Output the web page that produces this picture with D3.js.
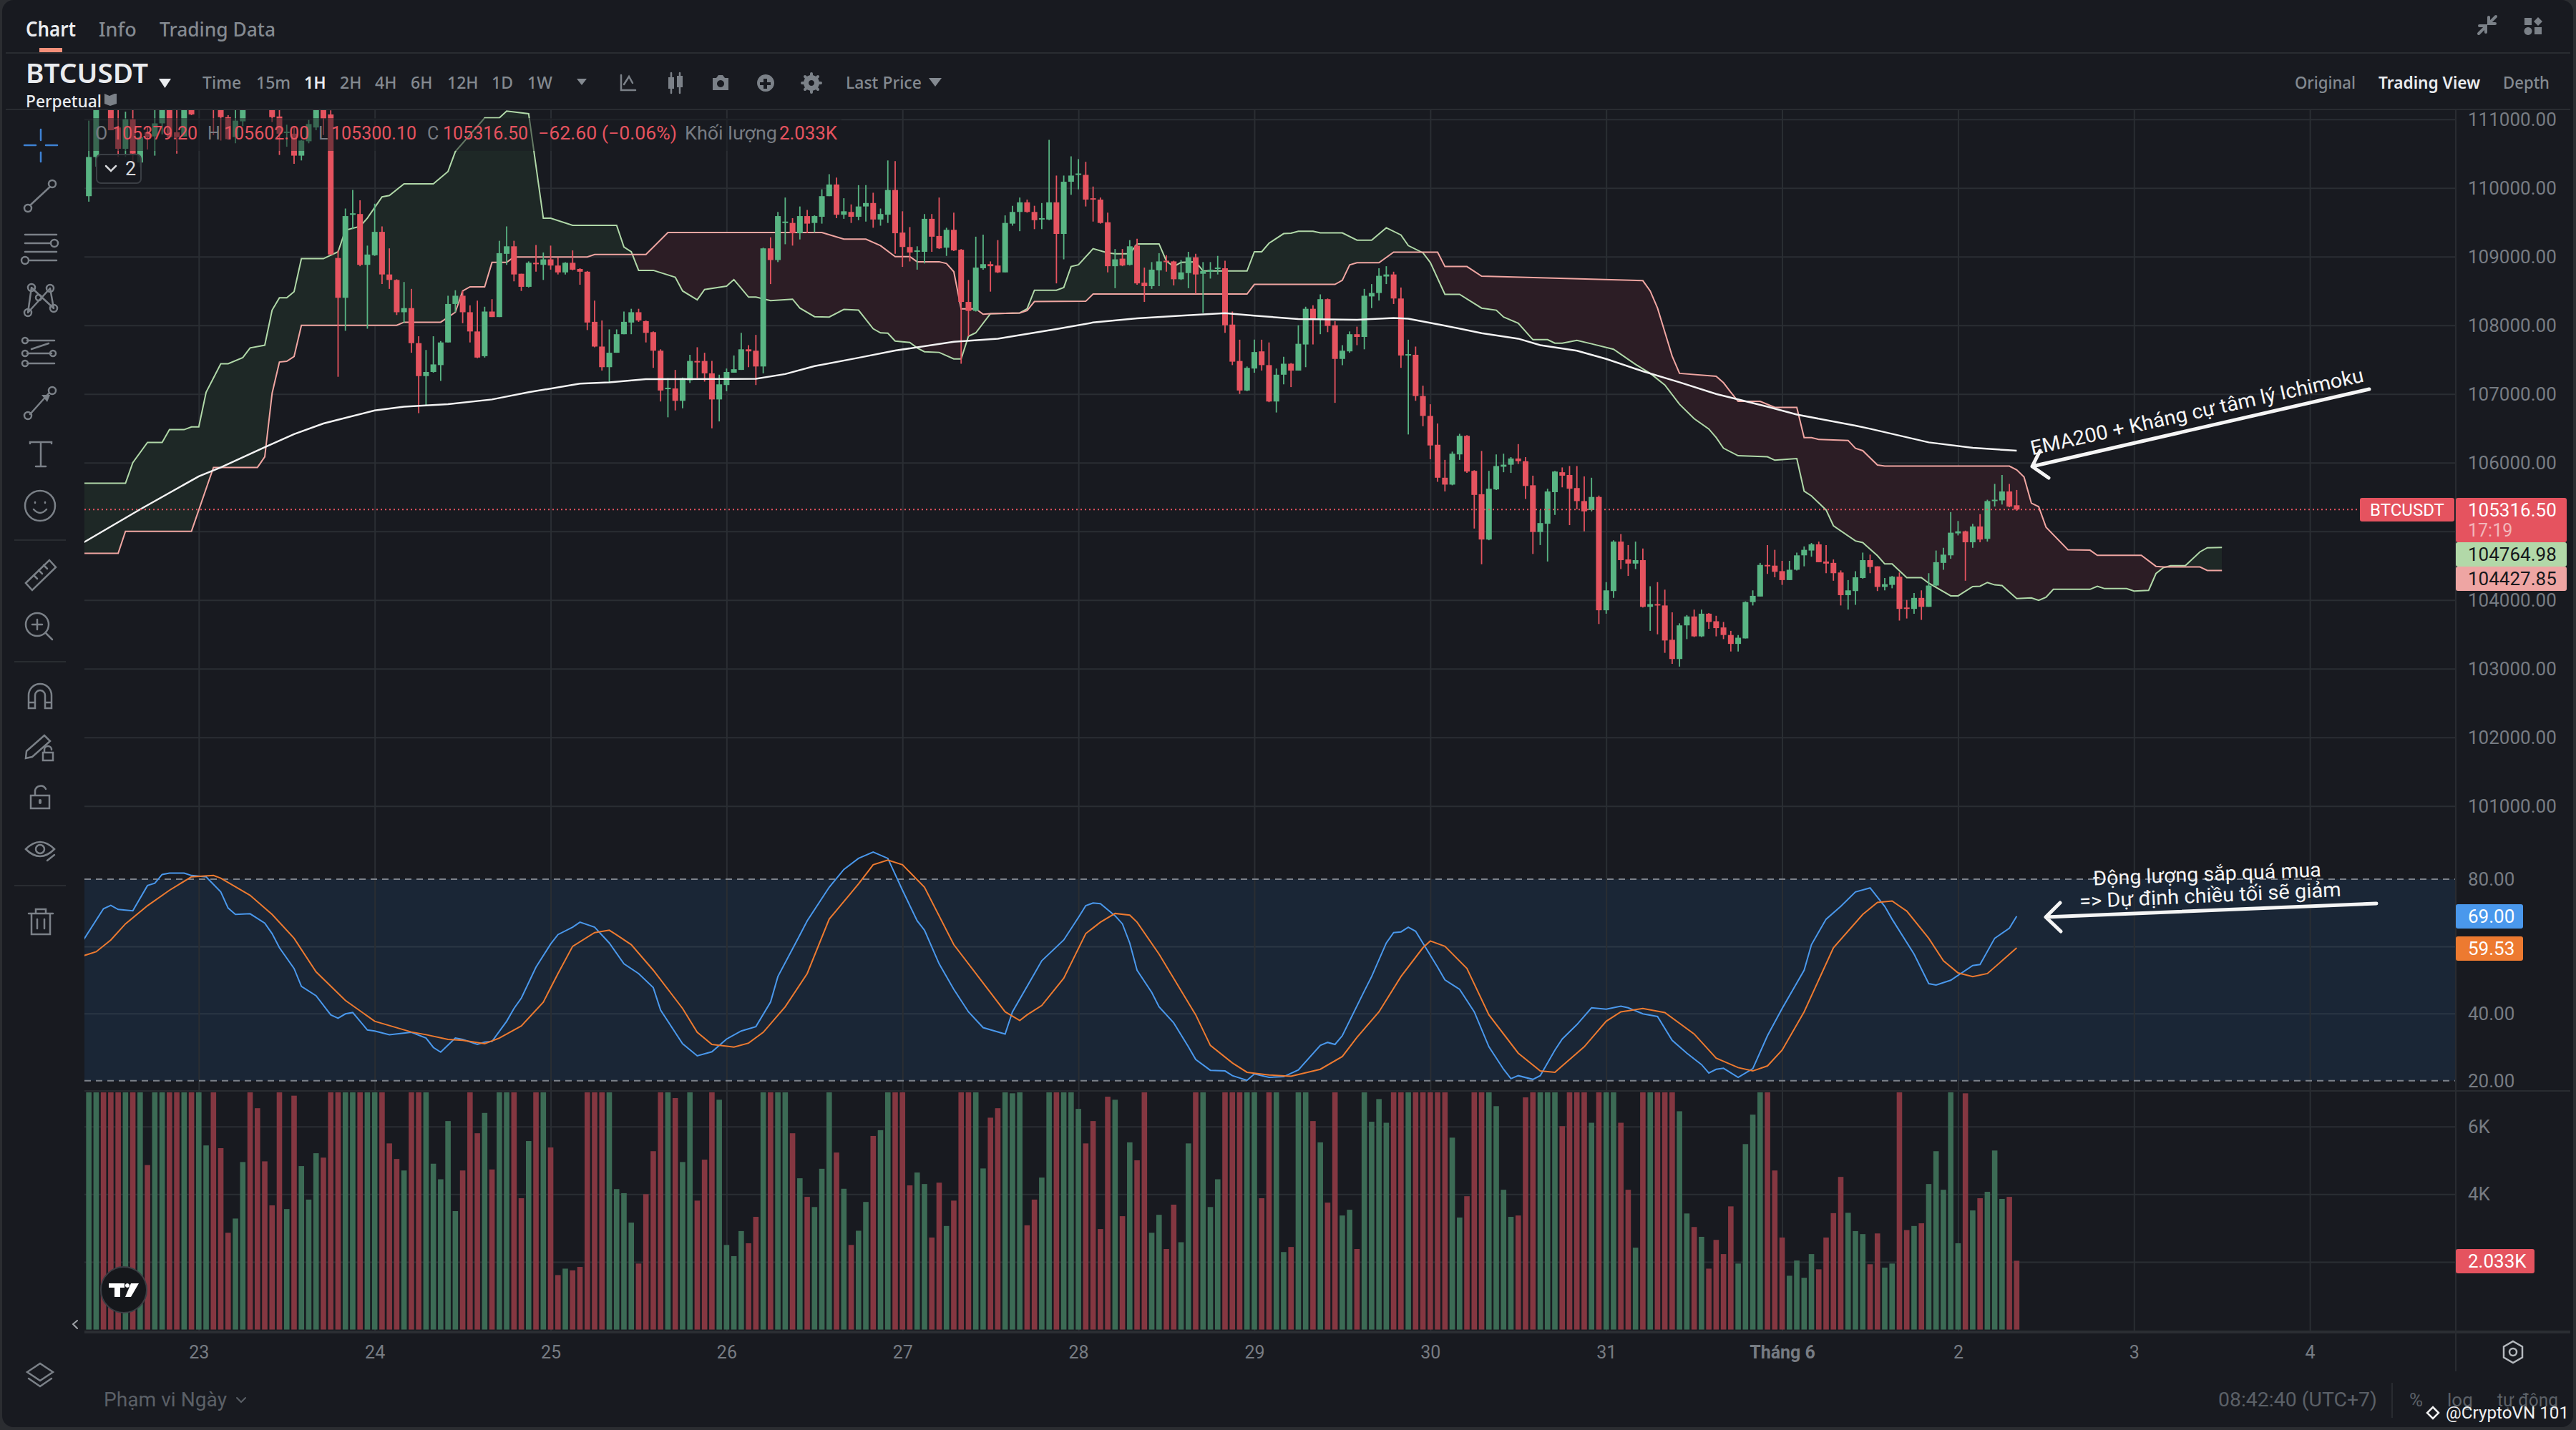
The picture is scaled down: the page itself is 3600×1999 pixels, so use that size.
<!DOCTYPE html>
<html>
<head>
<meta charset="utf-8">
<title>BTCUSDT</title>
<script src="https://cdn.jsdelivr.net/npm/d3@7"></script>
<style>
  html, body { margin: 0; padding: 0; background: #2b2d31; }
  svg { display: block; }
  text { font-family: "Noto Sans", sans-serif; }
  .num text, text.num { font-family: Roboto, sans-serif; }
</style>
</head>
<body>
<div id="chart"></div>
<script>
// Nến 1H, bar 0 = 23/5 00:00, bar đầu tiên = -15
const firstBar = -15;

const opens = [
  109880,110450,111500,111350,110880,110570,111000,110370,110810,110750,
  110940,111200,110810,110750,111300,111250,111250,111350,111250,111030,
  110740,110970,111350,111350,111300,111250,111040,110800,110790,110470,
  110680,110880,111200,111070,108980,108400,109610,109620,108880,109020,
  109360,108740,108660,108190,108250,107740,107260,107320,107420,107750,
  108310,108430,108190,107910,107550,108200,108120,109040,109150,108750,
  108560,108910,108880,108960,108870,108770,108910,108820,108780,108050,
  107690,107390,107600,107870,108040,108190,108060,107900,107630,107070,
  107080,106900,107200,107480,107480,107300,106920,107130,107310,107350,
  107650,107630,107400,109120,108950,109490,109490,109340,109590,109490,
  109580,109880,110050,109610,109650,109580,109730,109780,109540,109610,
  109970,109350,109140,109070,109070,109550,109300,109130,109390,109100,
  108340,108210,108830,108890,108870,108770,109480,109650,109790,109650,
  109540,109540,109790,109330,110090,110190,110190,109850,109830,109500,
  108860,108970,108880,109160,108620,108570,108800,108940,108930,108670,
  108760,108990,108750,108780,108820,108830,108010,107480,107050,107370,
  107620,107420,106890,107280,107440,107340,107720,108240,108090,108380,
  108000,107510,107620,107870,107830,108420,108470,108710,108740,108390,
  107560,107570,106970,106680,106260,105780,105680,106120,106390,105880,
  105540,104880,105610,105940,105970,106060,106020,105670,104990,105110,
  105570,105860,105820,105630,105440,105310,105500,103850,104130,104850,
  104590,104530,104580,103900,103940,103920,103420,103140,103630,103760,
  103470,103800,103690,103600,103490,103360,103440,103970,104050,104510,
  104500,104420,104290,104440,104650,104720,104810,104560,104540,104400,
  104070,104130,104320,104580,104490,104190,104220,104340,103890,103870,
  104030,103900,104210,104540,104650,104970,105000,104840,105070,104890,
  105450,105450,105580,105379.2
];
const highs = [
  110980,111500,111700,111500,111200,111110,111200,110760,110890,111200,
  111300,111300,111200,111300,111400,111450,111400,111450,111350,111060,
  111200,111250,111450,111450,111400,111350,111250,110920,110900,110700,
  110990,111300,111300,111130,109090,109700,109970,109820,109160,109770,
  109440,109120,108670,108630,108530,107840,107640,107840,107770,108430,
  108510,108500,108290,108360,108270,108380,109230,109440,109230,108750,
  108930,109170,109060,109160,108990,108920,109090,108830,108790,108360,
  108070,107940,107940,108200,108240,108240,108070,107910,107650,107230,
  107350,107240,107570,107680,107600,107480,107280,107370,107560,107890,
  107710,107860,109130,109280,109650,109860,109560,109730,109680,109600,
  109980,110200,110150,109850,109760,110040,110040,109930,109700,110400,
  110390,109660,109430,109150,109620,109620,109860,109420,109640,109110,
  108660,109290,109320,108930,109240,109600,109740,109860,109830,109740,
  109780,110700,110180,110180,110460,110420,110380,110020,109860,109640,
  109110,109110,109240,109260,108840,108920,109050,109020,108940,108950,
  109070,109040,108920,108920,109010,108940,108200,107790,107400,107790,
  107790,107750,107370,107540,107450,108000,108270,108290,108450,108390,
  108060,107710,107910,107980,108530,108600,108830,108860,108780,108550,
  107790,107690,107120,106850,106570,106040,106160,106420,106400,105890,
  106170,105880,106120,106130,106080,106270,106080,105810,105310,105620,
  105880,105930,105950,105950,105800,105780,105520,104260,104870,104960,
  104800,104850,104750,104200,104260,104150,103820,103660,103780,103860,
  103860,103810,103770,103680,103550,103490,103980,104140,104540,104800,
  104730,104570,104570,104690,104780,104830,104850,104800,104590,104430,
  104290,104420,104690,104660,104490,104320,104350,104400,104000,104100,
  104140,104390,104720,104760,105280,105150,105010,105110,105250,105460,
  105690,105820,105690,105602
];
const lows = [
  109800,110310,111250,110840,110450,110450,110360,110300,110560,110470,
  110780,110740,110500,110750,111060,111200,111200,110770,110690,110700,
  110650,110900,111200,111200,111180,110960,110480,110600,110350,110400,
  110650,110840,110770,109030,107250,107920,109400,108860,107950,109010,
  108600,108530,108150,108030,107600,106720,106830,107310,107190,107750,
  108190,108030,107750,107520,107530,108120,108120,108880,108640,108500,
  108550,108780,108660,108810,108740,108740,108800,108590,107930,107680,
  107340,107160,107600,107870,107870,108050,107750,107380,106890,106660,
  106760,106790,107160,107230,107180,106500,106600,107040,107310,107350,
  107390,107130,107300,108600,108920,109180,109160,109250,109340,109350,
  109480,109880,109560,109550,109490,109530,109510,109420,109450,109490,
  109040,108850,108930,108810,108900,109070,109110,109010,109080,107440,
  107840,108200,108810,108490,108760,108770,109450,109370,109640,109400,
  109400,109530,108610,108960,109900,109980,109730,109510,109480,108770,
  108540,108860,108870,108590,108340,108530,108570,108780,108580,108660,
  108540,108460,108180,108680,108740,107890,107420,107000,107040,107310,
  107340,106880,106730,107140,107100,107340,107390,107720,107870,107900,
  106870,107420,107600,107710,107650,108250,108360,108600,108310,107380,
  106410,106900,106530,106050,105720,105580,105670,106040,105850,105040,
  104520,104870,105600,105860,105850,105980,105470,104670,104800,104560,
  105240,105640,105090,105320,105000,105290,103650,103800,104030,104450,
  104350,104450,103890,103550,103500,103230,103070,103030,103430,103460,
  103460,103580,103470,103430,103250,103250,103440,103920,104050,104380,
  104330,104220,104290,104430,104490,104630,104550,104390,104280,103920,
  103860,103930,104310,104390,104130,104140,104170,103700,103730,103800,
  103710,103900,104200,104440,104600,104940,104280,104760,104840,104850,
  105360,105390,105350,105300.1
];
const closes = [
  110450,111300,111350,110840,110570,111000,110500,110740,110740,110940,
  111200,110740,110740,111200,111070,111350,111350,111200,111030,110710,
  110980,111200,111250,111250,111220,111030,110790,110820,110470,110690,
  110930,111200,111010,109030,108400,109590,109630,108880,109030,109360,
  108740,108660,108190,108250,107740,107260,107320,107430,107750,108310,
  108430,108190,107910,107530,108200,108120,109050,109150,108740,108560,
  108910,108890,108960,108870,108770,108910,108810,108780,108040,107690,
  107390,107600,107870,108050,108190,108070,107890,107630,107050,107090,
  106900,107230,107480,107470,107300,106920,107140,107320,107360,107650,
  107620,107400,109120,108950,109590,109510,109340,109590,109480,109590,
  109880,110050,109610,109660,109580,109730,109780,109540,109620,109970,
  109340,109140,109060,109090,109550,109290,109120,109390,109090,108340,
  108210,108840,108890,108860,108770,109490,109650,109790,109650,109530,
  109560,109790,109330,110090,110180,110210,109830,109830,109490,108860,
  108960,108870,109150,108610,108570,108810,108930,108930,108670,108770,
  108990,108740,108790,108810,108840,108000,107470,107050,107380,107610,
  107420,106890,107280,107440,107340,107730,108240,108090,108380,107990,
  107510,107630,107870,107830,108430,108470,108720,108740,108390,107560,
  107580,106970,106680,106250,105780,105680,106130,106390,105870,105530,
  104880,105620,105950,105970,106060,106020,105660,104990,105120,105580,
  105870,105810,105620,105440,105290,105500,103850,104140,104850,104580,
  104530,104580,103900,103940,103920,103410,103140,103630,103760,103470,
  103800,103680,103590,103490,103360,103450,103970,104060,104510,104500,
  104410,104290,104440,104650,104730,104810,104550,104530,104390,104070,
  104140,104330,104580,104480,104190,104230,104340,103870,103880,104030,
  103900,104210,104550,104660,104980,105000,104840,105070,104880,105440,
  105460,105580,105360,105316.5
];
// Khối lượng (K), cột vượt khung lấy 8
const volumes = [
  8,8,8,8,8,8,8,8,4.86,8,
  8,8,8,8,8,8,5.44,8,5.36,2.86,
  3.28,4.95,8,6.54,4.97,3.67,8,3.56,6.91,4.83,
  3.84,5.21,5.08,8,8,8,8,8,8,8,
  8,5.5,5.04,4.7,8,8,8,4.9,4.44,6.16,
  3.5,4.7,8,5.8,6.4,4.73,8,8,8,3.88,
  5.57,8,8,5.38,1.61,1.8,1.75,1.85,8,8,
  8,8,4.15,4.03,3.16,1.95,4,5.27,8,8,
  6.84,4.95,8,3.81,5.02,8,6.79,2.5,2.17,2.91,
  2.55,3.33,8,8,8,8,5.8,4.47,3.92,3.62,
  4.75,8,5.23,4.16,2.5,2.92,3.77,5.72,5.89,8,
  8,8,4.26,4.64,4.3,2.72,4.34,3.06,3.81,8,
  8,8,4.76,6.26,6.54,8,6.98,8,3.08,3.84,
  4.49,8,8,8,8,6.52,5.5,6.16,2.97,6.88,
  6.79,3.35,5.53,5,8,2.86,3.39,2.38,3.69,2.58,
  5.5,8,8,3.62,4.44,8,8,8,8,8,
  3.88,8,8,2.29,2.44,8,8,6.16,5.53,3.75,
  8,3.37,3.54,2.38,8,6.14,6.81,6.11,8,8,
  8,8,8,8,8,8,5.67,3.31,3.94,8,
  8,8,6.6,4.13,3.33,3.37,6.86,8,8,8,
  8,6.01,8,8,8,6.11,8,8,8,6.11,
  4.13,2.42,8,8,8,8,8,6.45,3.43,3.03,
  2.74,1.8,2.65,2.23,3.64,1.95,5.48,6.35,8,8,
  4.7,2.72,1.59,2.04,1.53,2.23,1.78,2.72,3.44,4.51,
  3.45,2.91,2.82,1.93,2.84,1.83,1.95,8,2.94,3.06,
  3.14,4.3,5.27,4.13,8,2.55,6.98,3.52,3.88,4.07,
  5.29,3.86,3.92,2.033
];

// Ichimoku: các đỉnh gãy [bar, giá]
const spanA = [
  [-16,105700],[-10,105700],[-9,106000],[-7,106295],[-5,106295],[-4,106480],[-2,106480],[-1,106520],[0,106520],[1,107025],
  [3,107440],[4,107440],[6,107530],[7,107670],[9,107710],[10,108220],[11,108400],[12,108400],[13,108490],[14,108970],
  [17,108970],[19,109070],[20,109385],[22,109440],[23,109560],[25,109870],[26,109890],[28,110060],[32,110060],[34,110240],
  [35,110530],[39,111020],[41,111020],[42,111120],[45,111080],[47,109560],[48,109560],[51,109455],[57,109455],[58,109140],
  [59,109070],[60,108800],[62,108800],[65,108700],[66,108500],[68,108370],[69,108520],[72,108570],[73,108665],[75,108410],
  [76,108410],[78,108360],[81,108380],[82,108250],[84,108125],[86,108120],[88,108230],[90,108220],[92,107950],[93,107890],
  [94,107885],[95,107770],[97,107750],[98,107670],[99,107615],[101,107605],[103,107510],[104,107510],[105,107840],[106,107890],
  [108,108170],[112,108180],[113,108240],[114,108510],[117,108510],[118,108550],[119,108855],[120,108880],[122,109115],[124,109055],
  [125,109040],[127,109040],[128,109185],[131,109185],[132,108935],[133,108855],[134,108915],[136,108925],[137,108790],[143,108790],
  [144,109070],[145,109070],[146,109195],[148,109335],[149,109340],[150,109370],[152,109370],[153,109345],[156,109345],[158,109240],
  [160,109240],[162,109420],[164,109315],[165,109160],[167,109055],[168,108915],[170,108450],[172,108450],[175,108250],[177,108220],
  [178,108120],[180,108030],[182,107790],[184,107790],[185,107740],[186,107740],[188,107780],[190,107730],[193,107650],[196,107430],
  [198,107300],[200,107130],[202,106850],[204,106640],[206,106490],[207,106365],[208,106210],[210,106100],[214,106085],[215,106035],
  [218,106060],[219,105585],[220,105515],[222,105310],[223,105080],[226,104860],[227,104835],[229,104645],[230,104525],[231,104525],
  [233,104325],[235,104325],[236,104245],[239,104060],[240,104060],[242,104195],[243,104200],[244,104255],[245,104220],[246,104210],
  [248,104020],[250,104030],[251,103995],[252,104040],[253,104155],[258,104155],[259,104200],[260,104165],[263,104165],[264,104130],
  [266,104140],[267,104385],[268,104470],[269,104500],[271,104500],[273,104700],[274,104760],[276,104765]
];
const spanB = [
  [-16,104680],[-11,104680],[-10,105000],[-1,105000],[2,105930],[8,105930],[9,106085],[10,107007],[11,107465],[12,107475],
  [13,107545],[14,108000],[27,108000],[28,108045],[33,108045],[35,108190],[36,108500],[37,108560],[39,108560],[40,108915],
  [42,108915],[43,108995],[53,108995],[54,109030],[61,109030],[64,109350],[85,109350],[88,109255],[91,109255],[93,109160],
  [95,109000],[97,109000],[98,108925],[101,108925],[102,108900],[103,108780],[104,108240],[106,108240],[107,108160],[108,108170],
  [112,108180],[113,108215],[114,108345],[121,108350],[122,108455],[143,108455],[144,108595],[155,108595],[156,108655],[157,108880],
  [158,108910],[161,108910],[163,109065],[169,109065],[170,108855],[173,108855],[175,108715],[197,108650],[198,108500],[199,108250],
  [200,107900],[201,107550],[202,107300],[207,107257],[208,107163],[209,107024],[210,106892],[213,106892],[215,106805],[218,106805],
  [219,106365],[220,106365],[221,106337],[225,106323],[226,106208],[227,106174],[229,105965],[230,105950],[247,105950],[248,105895],
  [249,105790],[250,105410],[251,105358],[252,105060],[255,104730],[258,104725],[259,104650],[265,104650],[267,104490],[268,104480],
  [273,104480],[274,104430],[276,104428]
];
const ema200 = [
  [-16,104820],[-8,105320],[0,105800],[3,105930],[9,106225],[13,106415],[17,106570],[19,106625],[24,106760],[28,106815],
  [34,106850],[40,106920],[45,107025],[52,107150],[56,107170],[61,107215],[76,107220],[80,107290],[84,107405],[90,107527],
  [95,107632],[103,107760],[109,107805],[117,107945],[122,108040],[128,108100],[134,108140],[140,108177],[144,108140],[150,108090],
  [158,108080],[163,108105],[165,108095],[170,107995],[175,107885],[180,107805],[183,107710],[188,107630],[192,107510],[197,107330],
  [202,107170],[207,107000],[214,106815],[218,106700],[226,106538],[228,106493],[236,106295],[242,106215],[248,106174]
];

// Stoch RSI
const stochK = [
  [-16,61],[-13,71.2],[-12,72.2],[-11,71],[-9,70.6],[-7,78.1],[-6,78.8],[-5,81.4],[-4,81.8],[-2,81.8],
  [-1,81.1],[1,80.7],[3,76.2],[4,71.4],[5,69.5],[7,69.7],[9,66.9],[10,63.8],[11,59.6],[13,53.4],
  [14,48.1],[16,45.3],[18,39.6],[19,38.6],[20,39.9],[21,40.3],[23,35.1],[24,34.8],[26,33.7],[29,34.4],
  [31,32.7],[32,29.9],[33,28.5],[35,32.7],[36,32.3],[38,30.8],[39,31.5],[40,31.7],[42,37.7],[43,41.5],
  [44,44.6],[46,53.8],[48,60.7],[49,63.5],[51,65.7],[52,67.2],[54,65.7],[56,61],[58,54.8],[60,51.9],
  [62,47.7],[63,41],[66,31],[68,27.4],[70,28.6],[72,32.4],[74,34.8],[76,36.1],[78,43.4],[79,51],
  [82,63.4],[83,67.6],[86,77.6],[88,82.9],[90,86.2],[92,88.1],[94,86.2],[96,76.7],[98,67.6],[99,64.8],
  [101,54.8],[103,47.2],[105,40.5],[107,35.8],[110,33.9],[111,40.5],[114,51.9],[115,55.7],[118,61.9],[120,68.6],
  [121,72.1],[122,72.9],[123,72.7],[125,69.1],[126,66.7],[127,61],[128,52.9],[130,46.3],[131,42],[133,37.2],
  [135,30.1],[136,26.3],[138,23.1],[140,22.9],[141,21.5],[143,20.1],[144,22],[146,21],[148,21.2],[150,23.2],
  [153,30.5],[154,31.4],[155,30.8],[156,33.4],[159,46.7],[160,51],[162,61],[163,64.1],[164,64.3],[165,65.7],
  [166,64.5],[169,53.8],[170,50],[172,47.2],[174,40.5],[176,30.1],[178,23.4],[179,20.6],[180,21.5],[182,20.4],
  [183,21.5],[185,29.1],[186,32.4],[188,36.7],[190,41.7],[192,41.3],[194,42.2],[195,41.7],[197,39.9],[199,39.1],
  [201,32],[203,28.2],[205,24.8],[206,22.3],[207,23.4],[208,23.7],[210,21],[212,23.6],[214,33.4],[216,41.5],
  [219,52.9],[220,60.5],[222,68.1],[224,71.9],[226,76.2],[228,77.4],[230,71.9],[231,68.1],[234,57.7],[236,48.9],
  [237,48.5],[239,49.9],[242,54.3],[243,54.6],[245,62.4],[247,65.4],[248,69]
];
const stochD = [
  [-16,57],[-14,58.4],[-12,61.9],[-10,66.7],[-7,72.1],[-4,76.7],[-1,80.7],[2,81.1],[3,80.3],[7,75.2],
  [10,69.5],[13,62.4],[16,52.4],[20,43.9],[24,37.7],[29,34.5],[31,33.7],[34,32.3],[36,32],[39,31],
  [41,32.7],[44,36.3],[47,43.4],[49,51.9],[51,60],[54,64.1],[56,64.8],[57,63.4],[59,60.5],[62,52.9],
  [66,41.5],[68,34.4],[70,30.8],[73,30],[75,31.2],[77,34.4],[80,42],[83,51.9],[86,68.1],[90,78.6],
  [92,84.3],[94,85.7],[96,84.3],[99,77.6],[103,60.5],[107,49.1],[110,40.5],[112,37.9],[113,39.6],[115,42.4],
  [118,50.5],[121,63.8],[123,67.2],[125,69.8],[127,69.3],[128,67.2],[131,57.7],[136,39.6],[138,30.5],[141,25.3],
  [143,22.5],[146,21.7],[149,21.3],[153,23.4],[156,27.2],[158,32.9],[161,40.5],[164,51],[167,59.6],[168,61.6],
  [170,60],[173,53.4],[176,39.6],[180,28.2],[183,22.9],[185,22.5],[186,24.4],[189,30.1],[192,37.7],[194,40.5],
  [197,41.5],[200,40.3],[204,33.9],[207,26.7],[210,23.9],[212,22.9],[214,24.4],[216,29.1],[219,40.5],[223,59.6],
  [227,69.5],[229,73.1],[231,73.5],[233,70.5],[236,62.4],[238,55.7],[240,52.1],[242,51],[244,51.9],[246,55.7],
  [248,59.53]
];

// Nhãn trục
const priceTicks = [101000,102000,103000,104000,105000,106000,107000,108000,109000,110000,111000];
const stochTicks = [20,40,60,80];
const volumeTicks = [2,4,6];
const dayBars = [0,24,48,72,96,120,144,168,192,216,240,264,288];
const dayLabels = ["23","24","25","26","27","28","29","30","31","Tháng 6","2","3","4"];
const lastPrice = 105316.5;

const W = 3600, H = 1999;
const left = 118, right = 3432;
const upColor = "#58b483", downColor = "#e5535f";
const upVol = "#3c6b55", downVol = "#843741";
const gridColor = "#2a2e33";
const tickColor = "#777c83";

const svg = d3.select("#chart").append("svg").attr("width", W).attr("height", H);

svg.append("rect").attr("x", 3).attr("y", 0).attr("width", W - 7).attr("height", H - 4)
  .attr("rx", 16).attr("fill", "#181a20");

const x = d3.scaleLinear().domain([-15.6, 307.9]).range([left, right]);
const yPrice = d3.scaleLinear().domain([101000, 111000]).range([1126.7, 166.7]);
const yStoch = d3.scaleLinear().domain([20, 80]).range([1510.7, 1229]);
const yVol = d3.scaleLinear().domain([0, 6]).range([1858.6, 1574.7]);

const defs = svg.append("defs");
function addClip(id, xx, yy, w, h) {
  defs.append("clipPath").attr("id", id).append("rect")
    .attr("x", xx).attr("y", yy).attr("width", w).attr("height", h);
}
addClip("clipMain", left, 154, right - left, 1021);
addClip("clipStoch", left, 1175, right - left, 350);
addClip("clipVol", left, 1527, right - left, 333);

// Lưới
function hGrid(scale, ticks, color) {
  const g = svg.append("g").attr("transform", `translate(${left},0)`)
    .call(d3.axisLeft(scale).tickValues(ticks).tickSize(-(right - left)).tickFormat(""));
  g.select(".domain").remove();
  g.selectAll("line").attr("stroke", color).attr("stroke-width", 2);
}

// Nền Stoch RSI
svg.append("rect").attr("x", left).attr("width", right - left)
  .attr("y", yStoch(80)).attr("height", yStoch(20) - yStoch(80)).attr("fill", "#1a2636");

hGrid(yPrice, priceTicks, gridColor);
hGrid(yStoch, [40, 60], "#2b3745");
hGrid(yVol, volumeTicks, gridColor);

const vGrid = svg.append("g").attr("transform", "translate(0,1862)")
  .call(d3.axisBottom(x).tickValues(dayBars).tickSize(-1708).tickFormat(""));
vGrid.select(".domain").remove();
vGrid.selectAll("line").attr("stroke", gridColor).attr("stroke-width", 2);

svg.selectAll(".bandLine").data([80, 20]).enter().append("line")
  .attr("x1", left).attr("x2", right)
  .attr("y1", d => yStoch(d)).attr("y2", d => yStoch(d))
  .attr("stroke", "#7d828a").attr("stroke-width", 2).attr("stroke-dasharray", "9 7");

// Mây Ichimoku
const main = svg.append("g").attr("clip-path", "url(#clipMain)");
function bandClip(id, series, edge) {
  defs.append("clipPath").attr("id", id).append("path").attr("d",
    d3.area().x(d => x(d[0])).y0(edge).y1(d => yPrice(d[1]))(series));
}
bandClip("belowA", spanA, 1175);
bandClip("aboveA", spanA, 100);
bandClip("belowB", spanB, 1175);
bandClip("aboveB", spanB, 100);

function cloudFill(clipOuter, clipInner, color) {
  main.append("g").attr("clip-path", `url(#${clipOuter})`)
    .append("rect").attr("clip-path", `url(#${clipInner})`)
    .attr("x", x(-16)).attr("width", x(276) - x(-16))
    .attr("y", 100).attr("height", 1075).attr("fill", color);
}
cloudFill("belowA", "aboveB", "#1e2826");
cloudFill("aboveA", "belowB", "#2c1d25");

const priceLine = d3.line().x(d => x(d[0])).y(d => yPrice(d[1]));
main.append("path").attr("d", priceLine(spanA)).attr("fill", "none").attr("stroke", "#b0d8a8").attr("stroke-width", 2);
main.append("path").attr("d", priceLine(spanB)).attr("fill", "none").attr("stroke", "#f0a6a2").attr("stroke-width", 2);

// Nến
const candles = opens.map((o, k) => ({ i: firstBar + k, o: o, h: highs[k], l: lows[k], c: closes[k], v: volumes[k] }));
const bodyW = 8;

main.selectAll(".wick").data(candles).enter().append("line")
  .attr("x1", d => x(d.i)).attr("x2", d => x(d.i))
  .attr("y1", d => yPrice(d.h)).attr("y2", d => yPrice(d.l))
  .attr("stroke", d => d.c >= d.o ? upColor : downColor).attr("stroke-width", 1.8);

main.selectAll(".body").data(candles).enter().append("rect")
  .attr("x", d => x(d.i) - bodyW / 2).attr("width", bodyW)
  .attr("y", d => yPrice(Math.max(d.o, d.c)))
  .attr("height", d => Math.max(2, Math.abs(yPrice(d.o) - yPrice(d.c))))
  .attr("fill", d => d.c >= d.o ? upColor : downColor);

main.append("path").attr("d", priceLine(ema200)).attr("fill", "none").attr("stroke", "#f3f3f3").attr("stroke-width", 2.5);

// Đường giá cuối
svg.append("line").attr("x1", left).attr("x2", 3298)
  .attr("y1", yPrice(lastPrice)).attr("y2", yPrice(lastPrice))
  .attr("stroke", downColor).attr("stroke-width", 2).attr("stroke-dasharray", "2 4");

// Stoch RSI
const stochPane = svg.append("g").attr("clip-path", "url(#clipStoch)");
const stochLine = d3.line().x(d => x(d[0])).y(d => yStoch(d[1]));
stochPane.append("path").attr("d", stochLine(stochK)).attr("fill", "none").attr("stroke", "#4a98ec").attr("stroke-width", 2);
stochPane.append("path").attr("d", stochLine(stochD)).attr("fill", "none").attr("stroke", "#ed7a30").attr("stroke-width", 2);

// Khối lượng
const volPane = svg.append("g").attr("clip-path", "url(#clipVol)");
volPane.selectAll("rect").data(candles).enter().append("rect")
  .attr("x", d => x(d.i) - 3.8).attr("width", 7.6)
  .attr("y", d => yVol(d.v)).attr("height", d => yVol(0) - yVol(d.v))
  .attr("fill", d => d.c >= d.o ? upVol : downVol);

// Đường phân cách
function rule(x1, y1, x2, y2, color, w) {
  svg.append("line").attr("x1", x1).attr("y1", y1).attr("x2", x2).attr("y2", y2)
    .attr("stroke", color || "#292c31").attr("stroke-width", w || 2);
}
rule(8, 74, 3592, 74);
rule(8, 153, 3592, 153);
rule(left, 1525, 3592, 1525);
rule(left, 1862, 3592, 1862, "#2b2e33", 4);
rule(right, 153, right, 1917);
rule(3343, 1933, 3343, 1982);

// Trục phải
function valueAxis(scale, ticks, fmt) {
  const g = svg.append("g").attr("class", "num").attr("transform", `translate(${right},0)`)
    .call(d3.axisRight(scale).tickValues(ticks).tickSize(0).tickPadding(17).tickFormat(fmt));
  g.select(".domain").remove();
  g.selectAll("text").attr("fill", tickColor).style("font-size", "26px").style("font-family", "Roboto, sans-serif");
}
valueAxis(yPrice, priceTicks, d => d === 105000 ? "" : d3.format(".2f")(d));
valueAxis(yStoch, stochTicks, d => d === 60 ? "" : d3.format(".2f")(d));
valueAxis(yVol, volumeTicks, d => d === 2 ? "" : d + "K");

// Trục thời gian
const timeAxis = svg.append("g").attr("transform", "translate(0,1873)")
  .call(d3.axisBottom(x).tickValues(dayBars).tickSize(0).tickPadding(8)
    .tickFormat(d => dayLabels[dayBars.indexOf(d)]));
timeAxis.select(".domain").remove();
timeAxis.selectAll("text").attr("fill", tickColor).style("font-size", "25px")
  .style("font-family", "Roboto, sans-serif")
  .style("font-weight", d => d === 216 ? 700 : 400);

// Chữ
function label(str, xx, yy, size, color, opt) {
  opt = opt || {};
  const t = svg.append("text").attr("x", xx).attr("y", yy).attr("dominant-baseline", "central")
    .attr("font-size", size).attr("fill", color)
    .attr("font-weight", opt.weight || 400)
    .attr("text-anchor", opt.anchor || "start")
    .text(str);
  if (opt.font) t.style("font-family", opt.font);
  if (opt.len) t.attr("textLength", opt.len).attr("lengthAdjust", "spacingAndGlyphs");
  if (opt.rot) t.attr("transform", `rotate(${opt.rot} ${xx} ${yy})`);
  return t;
}

// Thanh trên
const gray = "#848a91";
label("Chart", 36, 40, 28, "#eaecef", { weight: 600, len: 70 });
label("Info", 138, 40, 27, gray, { weight: 500 });
label("Trading Data", 223, 40, 27, gray, { weight: 500, len: 162 });
svg.append("rect").attr("x", 55).attr("y", 67).attr("width", 32).attr("height", 6).attr("fill", "#f4907a");

label("BTCUSDT", 36, 101, 38, "#eaecef", { weight: 600, len: 171 });
svg.append("path").attr("d", "M222 110 L239 110 L230.5 123 Z").attr("fill", "#eaecef");
label("Perpetual", 36, 140, 24, "#eaecef", { weight: 500, len: 106 });
svg.append("path").attr("d", "M146 131 L153 134 L160 131 L163 131 L163 145 L154 148 L146 145 Z").attr("fill", "#7b8188");

const intervals = [["Time", 283, 0], ["15m", 358, 0], ["1H", 425, 1], ["2H", 475, 0], ["4H", 524, 0], ["6H", 574, 0], ["12H", 625, 0], ["1D", 687, 0], ["1W", 737, 0]];
intervals.forEach(d => label(d[0], d[1], 115, 23, d[2] ? "#eaecef" : gray, { anchor: "start", weight: d[2] ? 600 : 500 }));
svg.append("path").attr("d", "M806 110 L820 110 L813 119 Z").attr("fill", gray);
label("Last Price", 1182, 115, 23, gray, { weight: 500 });
svg.append("path").attr("d", "M1298 109 L1316 109 L1307 121 Z").attr("fill", gray);

label("Original", 3207, 115, 23, gray, { weight: 500, len: 85 });
label("Trading View", 3324, 115, 23, "#eaecef", { weight: 600, len: 142 });
label("Depth", 3498, 115, 23, gray, { weight: 500, len: 65 });

// Biểu tượng thanh trên
const iconColor = "#7b8188";
function iconPath(d, opt) {
  opt = opt || {};
  svg.append("path").attr("d", d)
    .attr("fill", opt.fill ? (opt.color || iconColor) : "none")
    .attr("stroke", opt.fill ? "none" : (opt.color || iconColor))
    .attr("stroke-width", opt.sw || 2.5)
    .attr("fill-rule", "evenodd")
    .attr("stroke-linecap", "round");
}
iconPath("M868 105 L868 126 L888 126 M872 118 L879 107 L884 116");
iconPath("M934 108 h8 v16 h-8 Z M946 106 h8 v16 h-8 Z", { fill: true });
iconPath("M938 102 v28 M950 102 v28");
iconPath("M996 109 h5 l3 -4 h6 l3 4 h5 v17 h-22 Z M1007 112 a5 5 0 1 0 0.01 0 Z", { fill: true });
iconPath("M1070 104 a12 12 0 1 0 0.01 0 Z M1067 110 v5 h-5 v4 h5 v5 h5 v-5 h5 v-4 h-5 v-5 Z", { fill: true });
iconPath("M1134 105 a11 11 0 1 0 0.01 0 Z M1134 112 a4 4 0 1 1 -0.01 0 Z", { fill: true });
iconPath("M1134 103 v2 M1134 127 v2 M1121 116 h2 M1145 116 h2 M1125 107 l2 2 M1143 107 l-2 2 M1125 125 l2 -2 M1143 125 l-2 -2", { sw: 4 });
iconPath("M3488 23 L3478 33 M3478 24 V33 H3487 M3464 47 L3474 37 M3465 36 H3474 V45", { sw: 4 });
iconPath("M3528 25 h10 v10 h-10 Z M3547 24 l6 6 l-6 6 l-6 -6 Z M3533 38 a5.5 5.5 0 1 0 0.01 0 Z M3542 38 h10 v10 h-10 Z", { fill: true });

// Chú thích OHLC, có nền mờ che nến
svg.append("rect").attr("x", left).attr("y", 165).attr("width", 1058).attr("height", 46)
  .attr("fill", "#181a20").attr("opacity", 0.5);
const legendParts = [
  ["O", 133, tickColor], ["105379.20", 157, downColor],
  ["H", 290, tickColor], ["105602.00", 313, downColor],
  ["L", 445, tickColor], ["105300.10", 463, downColor],
  ["C", 597, tickColor], ["105316.50", 619, downColor],
  ["−62.60 (−0.06%)", 752, downColor, 194],
  ["Khối lượng", 957, tickColor, 129], ["2.033K", 1089, downColor, 81]
];
legendParts.forEach(d => label(d[0], d[1], 186, 25, d[2], { font: "Roboto, sans-serif", len: d[3] }));

svg.append("rect").attr("x", 135).attr("y", 216).attr("width", 62).attr("height", 40).attr("rx", 6)
  .attr("fill", "#181a20").attr("fill-opacity", 0.85).attr("stroke", "#3a3e44").attr("stroke-width", 2);
iconPath("M148 232 L155 239 L162 232", { color: "#d5d7da" });
label("2", 175, 236, 27, "#d5d7da", { font: "Roboto, sans-serif" });

// Nhãn giá bên phải
function tag(xx, yy, w, h, color, r) {
  svg.append("rect").attr("x", xx).attr("y", yy).attr("width", w).attr("height", h).attr("rx", r === undefined ? 3 : r).attr("fill", color);
}
const numFont = "Roboto, sans-serif";
tag(3298, 696, 132, 33, downColor);
label("BTCUSDT", 3364, 713, 24, "#fff", { anchor: "middle", font: numFont });
tag(right, 696, 155, 62, downColor);
label("105316.50", 3449, 713, 26, "#fff", { font: numFont });
label("17:19", 3449, 741, 25, "#f2b7bb", { font: numFont });
tag(right, 758, 155, 34, "#b2d8a8");
label("104764.98", 3449, 775, 26, "#16181c", { font: numFont });
tag(right, 792, 155, 34, "#eea5a3");
label("104427.85", 3449, 809, 26, "#16181c", { font: numFont });
tag(right, 1264, 94, 34, "#4a98ec");
label("69.00", 3449, 1281, 26, "#fff", { font: numFont });
tag(right, 1309, 94, 34, "#ed7a30");
label("59.53", 3449, 1326, 26, "#fff", { font: numFont });
tag(right, 1746, 110, 34, downColor);
label("2.033K", 3449, 1763, 26, "#fff", { font: numFont });

// Ghi chú vẽ tay
function arrow(x1, y1, x2, y2, h1x, h1y, h2x, h2y) {
  svg.append("path").attr("d", `M${x1} ${y1} L${x2} ${y2} M${h1x} ${h1y} L${x2} ${y2} L${h2x} ${h2y}`)
    .attr("fill", "none").attr("stroke", "#f5f5f5").attr("stroke-width", 5)
    .attr("stroke-linecap", "round").attr("stroke-linejoin", "round");
}
arrow(3311, 544, 2840, 652, 2851, 630, 2863, 668);
arrow(3321, 1263, 2859, 1282, 2879, 1262, 2880, 1302);
label("EMA200 + Kháng cự tâm lý Ichimoku", 2838, 627, 28, "#f5f5f5", { font: numFont, rot: -12.5, len: 476 });
label("Động lượng sắp quá mua", 2925, 1228, 28, "#f5f5f5", { font: numFont, rot: -2.2, len: 319 });
label("=> Dự định chiều tối sẽ giảm", 2906, 1260, 28, "#f5f5f5", { font: numFont, rot: -2.6, len: 366 });

// Logo TV
svg.append("circle").attr("cx", 173).attr("cy", 1803).attr("r", 32).attr("fill", "#15171b").attr("stroke", "#3b3e44").attr("stroke-width", 2);
iconPath("M152 1794 h22 v6 h-6 v13 h-8 v-13 h-8 Z M176 1794 h2 a3 3 0 1 1 -0.1 0 Z M183 1794 h11 l-11 19 h-8 Z", { fill: true, color: "#fff" });

// Thanh công cụ trái
const tool = iconColor;
iconPath("M34 203 H50 M64 203 H80", { color: "#3e82d4" });
iconPath("M57 181 V196 M57 213 V226", { color: "#3e82d4" });
function ring(cx, cy, r, color) {
  svg.append("circle").attr("cx", cx).attr("cy", cy).attr("r", r).attr("fill", "none").attr("stroke", color || tool).attr("stroke-width", 2.5);
}
iconPath("M42 287 L70 261"); ring(39, 291, 5); ring(73, 257, 5);
iconPath("M35 328 H79 M35 340 H70 M35 352 H79 M42 364 H79"); ring(76, 340, 5); ring(35, 364, 5);
iconPath("M44 402 L39 437 M44 402 L75 431 M70 403 L39 437 M70 403 L75 431"); ring(44, 402, 5); ring(70, 403, 5); ring(39, 437, 5); ring(75, 431, 5); ring(54, 416, 4);
iconPath("M38 476 H76 M38 494 H72 M38 508 H76 M44 488 L68 480"); ring(35, 476, 4); ring(35, 494, 4); ring(74, 494, 4); ring(35, 508, 4);
iconPath("M42 579 L68 550"); ring(39, 581, 5); ring(73, 546, 5);
iconPath("M58 552 L66 562 L70 552 Z", { fill: true });
iconPath("M42 620 V618 H72 V620 M57 618 V652 M50 652 H64");
ring(56, 707, 21);
iconPath("M47 712 Q56 722 65 712 M49 702 v1 M63 702 v1");
rule(20, 755, 92, 755);
iconPath("M36 815 L69 783 L78 793 L45 825 Z M47 804 l5 5 M54 797 l5 5 M61 790 l5 5");
ring(52, 873, 16);
iconPath("M45 873 H59 M52 866 V880 M64 885 L73 894");
rule(20, 925, 92, 925);
iconPath("M40 990 V972 A16 16 0 0 1 72 972 V990 H63 V972 A7 7 0 0 0 49 972 V990 Z M40 982 H49 M63 982 H72");
iconPath("M37 1050 L62 1028 L70 1036 L45 1058 L36 1060 Z");
iconPath("M60 1052 h14 v11 h-14 Z M62 1052 v-4 a5 5 0 0 1 10 0");
iconPath("M43 1112 h26 v18 h-26 Z M49 1112 v-7 a8 8 0 0 1 15 -2");
iconPath("M56 1119 v3", { sw: 4 });
iconPath("M36 1187 Q56 1167 76 1187 Q56 1207 36 1187 Z M66 1203 l10 -8");
ring(56, 1187, 6);
rule(20, 1238, 92, 1238);
iconPath("M40 1277 H74 M50 1277 V1271 H64 V1277 M44 1277 V1306 H70 V1277 M52 1285 V1298 M62 1285 V1298");
iconPath("M38 1918 L56 1906 L74 1918 L56 1930 Z M40 1927 L56 1938 L72 1927");
iconPath("M108 1846 L102 1851 L108 1857", { color: "#a0a4a9", sw: 2 });

// Bánh răng trục thời gian
iconPath("M3512 1875 L3525 1882.5 L3525 1897.5 L3512 1905 L3499 1897.5 L3499 1882.5 Z", { color: "#b4b8bd" });
ring(3512, 1890, 5, "#b4b8bd");

// Thanh dưới
const dim = "#5b6067";
label("Phạm vi Ngày", 145, 1957, 27, dim, { font: numFont, len: 172 });
iconPath("M331 1954 L337 1960 L343 1954", { color: dim, sw: 2 });
label("08:42:40 (UTC+7)", 3100, 1957, 27, dim, { font: numFont, len: 222 });
label("%", 3367, 1957, 26, dim, { font: numFont });
label("log", 3420, 1957, 26, dim, { font: numFont });
label("tự động", 3490, 1957, 26, dim, { font: numFont, len: 85 });
label("@CryptoVN 101", 3418, 1975, 24, "#f0f0f0", { font: numFont, len: 172 });
iconPath("M3400 1967 l8 8 l-8 8 l-8 -8 Z", { color: "#f0f0f0" });
</script>
</body>
</html>
